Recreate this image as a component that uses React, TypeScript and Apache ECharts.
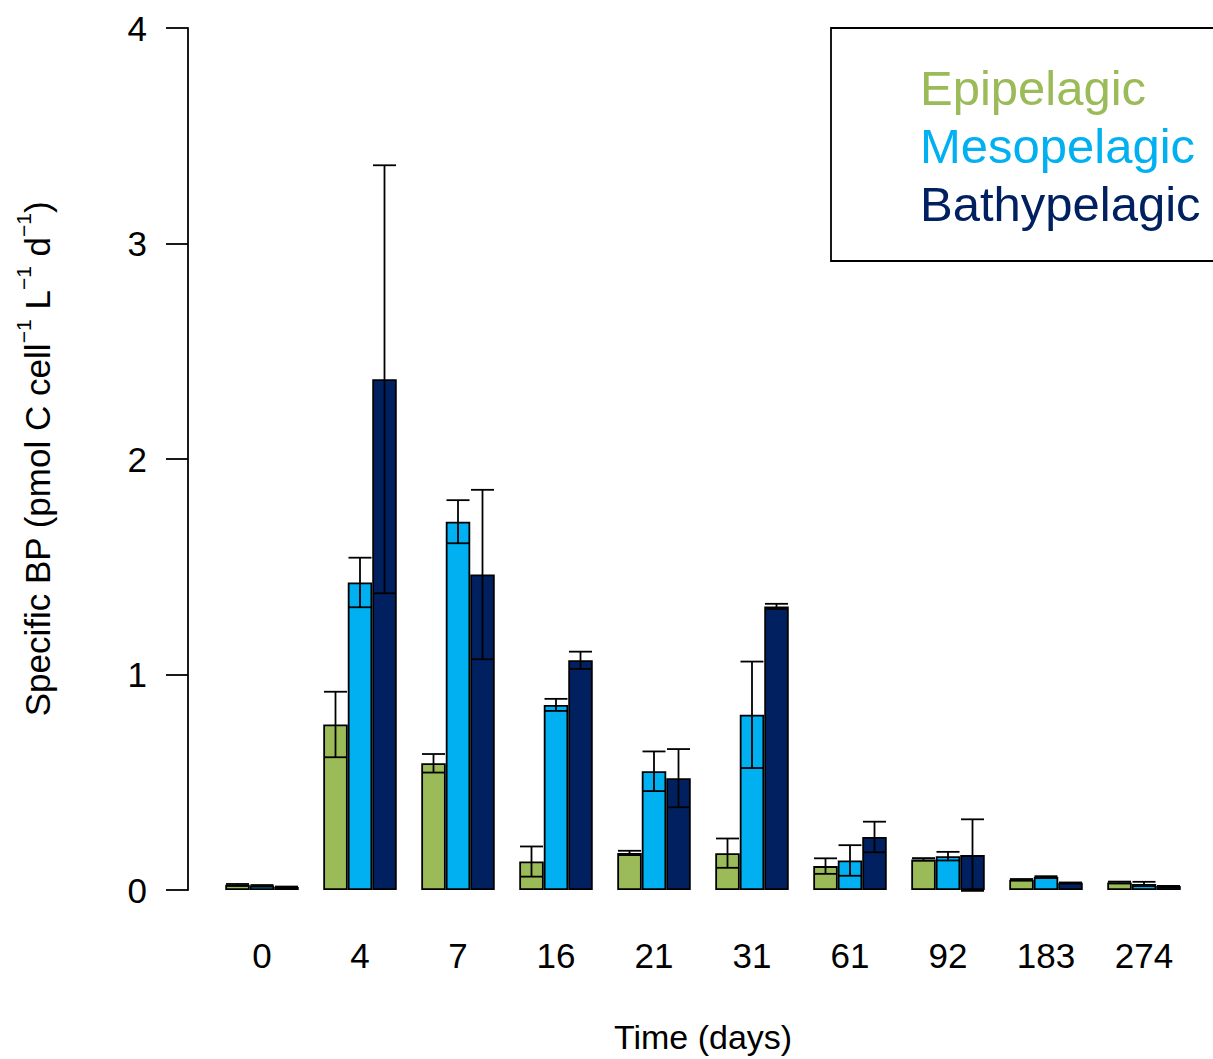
import React, { useEffect, useRef } from "react";
import * as echarts from "echarts";

const days = ["0", "4", "7", "16", "21", "31", "61", "92", "183", "274"];
const seriesNames = ["Epipelagic", "Mesopelagic", "Bathypelagic"];
const colors = ["#9BBB59", "#00B0F0", "#002060"];

const epi = [0.024, 0.768, 0.588, 0.132, 0.172, 0.171, 0.111, 0.142, 0.048, 0.035];
const epiSd = [0.004, 0.152, 0.043, 0.07, 0.01, 0.068, 0.036, 0.006, 0.003, 0.004];
const meso = [0.02, 1.427, 1.709, 0.859, 0.551, 0.813, 0.137, 0.157, 0.06, 0.028];
const mesoSd = [0.003, 0.115, 0.1, 0.028, 0.092, 0.247, 0.071, 0.02, 0.004, 0.01];
const bathy = [0.014, 2.37, 1.464, 1.066, 0.519, 1.316, 0.246, 0.162, 0.034, 0.018];
const bathySd = [0.002, 0.993, 0.393, 0.04, 0.135, 0.012, 0.071, 0.166, 0.001, 0.001];

const yTicks = [0, 1, 2, 3, 4];

const FONT = "'Liberation Sans', Arial, Helvetica, sans-serif";

export default function App() {
  const ref = useRef<HTMLDivElement>(null);

  useEffect(() => {
    if (!ref.current) return;
    const chart = echarts.init(ref.current, undefined, { renderer: "svg" });
    const means = [epi, meso, bathy];
    const sds = [epiSd, mesoSd, bathySd];

    const barSeries = means.map((vals, i) => ({
      name: seriesNames[i],
      type: "bar",
      data: vals,
      barWidth: "25%",
      barGap: "0%",
      itemStyle: { color: colors[i], borderColor: "#000", borderWidth: 1.8 },
      z: 2,
    }));

    const errSeries = means.map((vals, i) => ({
      name: seriesNames[i] + " sd",
      type: "custom",
      z: 5,
      data: vals.map((v, k) => [k, v, sds[i][k]]),
      encode: { x: 0, y: 1 },
      renderItem: (params: any, api: any) => {
        const k = api.value(0);
        const m = api.value(1);
        const s = api.value(2);
        const band = api.size([1, 0])[0];
        const off = (i - 1) * band * 0.25;
        const top = api.coord([k, m + s]);
        const bot = api.coord([k, m - s]);
        const x = top[0] + off;
        const hw = 11.5;
        const st = { stroke: "#000", lineWidth: 1.8 };
        return {
          type: "group",
          children: [
            { type: "line", shape: { x1: x, y1: top[1], x2: x, y2: bot[1] }, style: st },
            { type: "line", shape: { x1: x - hw, y1: top[1], x2: x + hw, y2: top[1] }, style: st },
            { type: "line", shape: { x1: x - hw, y1: bot[1], x2: x + hw, y2: bot[1] }, style: st },
          ],
        };
      },
    }));

    const option: any = {
      animation: false,
      backgroundColor: "#fff",
      textStyle: { fontFamily: FONT },
      grid: { left: 213, top: 28, width: 980, height: 866, containLabel: false },
      xAxis: {
        type: "category",
        data: days,
        axisLine: { show: false },
        axisTick: { show: false },
        axisLabel: { fontSize: 35, color: "#000", margin: 48, fontFamily: FONT },
        name: "Time (days)",
        nameLocation: "middle",
        nameGap: 130,
        nameTextStyle: { fontSize: 34, color: "#000", fontFamily: FONT },
      },
      yAxis: {
        type: "value",
        min: 0,
        max: 4,
        interval: 1,
        offset: 25,
        splitLine: { show: false },
        axisLine: { show: true, lineStyle: { color: "#000", width: 1.8 } },
        axisTick: { show: true, length: 22, lineStyle: { color: "#000", width: 1.8 } },
        axisLabel: {
          fontSize: 35,
          color: "#000",
          margin: 41,
          fontFamily: FONT,
          formatter: (v: number) => (yTicks.includes(v) ? String(v) : ""),
        },
        name: "{n|Specific BP (pmol C cell}{s|−1}{n| L}{s|−1}{n| d}{s|−1}{n|)}",
        nameLocation: "middle",
        nameGap: 133,
        nameRotate: 90,
        nameTextStyle: {
          color: "#000",
          fontFamily: FONT,
          rich: {
            n: { fontSize: 35, fontFamily: FONT, color: "#000", lineHeight: 42, verticalAlign: "bottom" },
            s: { fontSize: 21, fontFamily: FONT, color: "#000", lineHeight: 42, verticalAlign: "top" },
          },
        },
      },
      graphic: [
        {
          type: "rect",
          shape: { x: 831, y: 28, width: 420, height: 233 },
          style: { fill: "#fff", stroke: "#000", lineWidth: 1.8 },
          z: 10,
        },
        ...seriesNames.map((nm, i) => ({
          type: "text",
          x: 920,
          y: 88 + i * 58,
          z: 11,
          style: {
            text: nm,
            fill: colors[i],
            font: `49px ${FONT}`,
            textVerticalAlign: "middle",
            verticalAlign: "middle",
            textAlign: "left",
          },
        })),
      ],
      series: [...barSeries, ...errSeries],
    };
    chart.setOption(option);
    return () => chart.dispose();
  }, []);

  return (
    <div
      ref={ref}
      style={{ position: "absolute", left: 0, top: 0, width: 1213, height: 1059, background: "#fff" }}
    />
  );
}
